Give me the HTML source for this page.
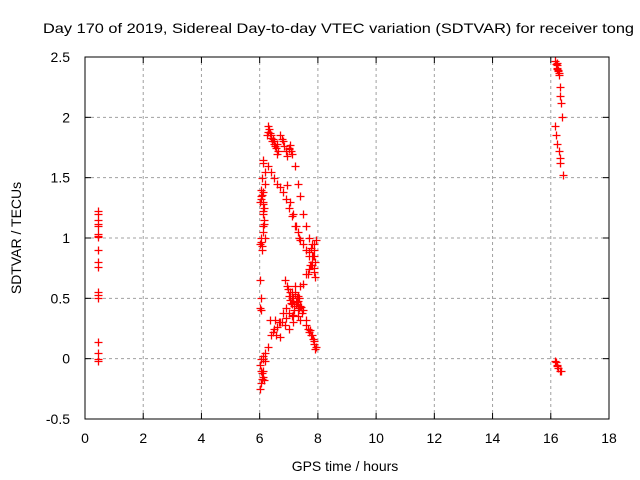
<!DOCTYPE html>
<html><head><meta charset="utf-8"><style>
html,body{margin:0;padding:0;background:#fff;}
svg{display:block;font-family:"Liberation Sans",sans-serif;}
</style></head><body>
<svg id="chart" width="640" height="480" viewBox="0 0 640 480" xmlns="http://www.w3.org/2000/svg">
<rect width="640" height="480" fill="#fff"/>
<text x="43" y="33" font-size="14" textLength="591" lengthAdjust="spacingAndGlyphs">Day 170 of 2019, Sidereal Day-to-day VTEC variation (SDTVAR) for receiver tong</text>
<g id="grid"></g>
<g id="axes"></g>
<g id="points"></g>
<text x="0" y="0" font-size="14" text-anchor="middle" transform="translate(21,238) rotate(-90)">SDTVAR / TECUs</text>
<text x="345" y="471" font-size="14" text-anchor="middle">GPS time / hours</text>
</svg>
<script>
const xTicks = [0,2,4,6,8,10,12,14,16,18];
const yTicks = [-0.5,0,0.5,1,1.5,2,2.5];
const yTickLabels = ["-0.5","0","0.5","1","1.5","2","2.5"];
const times = [
0.45,0.45,0.45,0.45,0.45,0.44,0.46,0.45,0.45,0.45,0.45,0.45,0.45,0.45,0.45,0.45,0.45,0.45,
6.02,6.05,6.08,6.1,6.02,6.05,6.1,6.12,6.05,6.02,6.05,6.0,6.02,6.05,6.08,6.0,6.03,6.06,6.1,6.12,6.15,6.1,6.15,6.1,6.2,6.08,6.1,6.12,6.18,6.2,
6.25,6.3,6.33,6.38,6.42,6.45,6.5,6.55,6.6,6.7,6.8,6.9,7.0,7.04,
7.1,7.2,7.3,7.4,7.5,7.6,7.7,7.8,7.85,7.9,
6.3,6.4,6.5,6.6,6.7,6.8,6.9,7.0,7.1,7.2,7.3,7.39,7.5,7.6,7.7,7.8,7.85,
6.94,7.05,7.15,7.25,7.35,
6.1,6.2,6.3,6.4,6.53,6.65,6.8,6.9,7.04,7.1,7.2,7.3,7.4,7.5,7.6,7.73,7.8,7.88,7.94,
6.87,6.95,7.05,7.15,7.25,7.39,7.5,7.6,7.73,7.8,7.88,7.94,
6.36,6.5,6.7,6.87,7.0,7.15,7.3,7.4,
7.1,7.15,7.2,7.25,7.3,7.18,7.22,7.12,7.28,
6.28,6.32,6.36,6.4,6.48,6.52,6.58,6.62,6.75,6.85,6.95,7.02,7.08,
6.04,6.07,6.1,6.13,6.16,6.06,6.09,6.12,6.04,6.07,6.14,6.17,
7.05,7.08,7.13,7.17,7.22,7.27,7.32,7.36,7.42,7.45,7.1,7.2,7.3,7.15,7.25,7.35,6.98,7.02,
7.65,7.7,7.75,7.8,7.85,7.9,7.68,7.78,7.83,7.88,
7.6,7.65,7.7,7.75,7.82,7.86,7.9,
6.45,6.6,6.75,6.9,7.0,6.55,6.7,
16.15,16.2,16.22,16.25,16.28,16.3,16.32,16.35,16.38,16.15,16.18,16.22,16.28,16.3,16.32,16.42,
16.18,16.22,16.26,16.2,16.28,
16.15,16.2,16.25,16.3,16.35,16.18,16.22
];
const values = [
1.22,1.2,1.15,1.12,1.1,1.03,1.02,1.01,0.9,0.8,0.76,0.55,0.53,0.5,0.14,0.05,0.0,-0.02,
-0.25,-0.2,-0.17,-0.15,-0.05,0.0,0.02,0.0,0.4,0.42,0.5,0.65,0.95,1.0,0.9,1.3,1.35,1.4,1.38,1.3,1.25,1.2,1.15,1.05,1.0,1.5,1.65,1.62,1.45,1.55,
1.85,1.93,1.9,1.85,1.8,1.82,1.8,1.75,1.78,1.85,1.8,1.72,1.75,1.77,
1.7,1.6,1.45,1.35,1.2,1.1,1.0,0.95,0.85,0.8,
1.6,1.55,1.5,1.45,1.42,1.38,1.32,1.25,1.18,1.1,1.05,0.98,0.95,0.9,0.85,0.78,0.75,
1.44,1.3,1.2,1.1,1.0,
-0.1,-0.02,0.1,0.2,0.32,0.3,0.38,0.42,0.49,0.5,0.55,0.52,0.6,0.62,0.7,0.78,0.85,0.9,0.98,
0.65,0.6,0.55,0.5,0.47,0.44,0.4,0.32,0.24,0.2,0.15,0.1,
0.32,0.25,0.3,0.28,0.25,0.3,0.35,0.32,
0.45,0.5,0.55,0.48,0.42,0.4,0.6,0.35,0.5,
1.88,1.9,1.87,1.83,1.78,1.76,1.7,1.72,1.82,1.76,1.68,1.74,1.72,
1.32,1.36,1.28,1.22,1.12,0.97,0.93,1.1,-0.1,-0.12,-0.18,0.05,
0.52,0.46,0.5,0.44,0.54,0.47,0.4,0.5,0.43,0.38,0.55,0.6,0.48,0.36,0.45,0.42,0.58,0.52,
0.7,0.74,0.78,0.8,0.72,0.68,0.88,0.92,0.85,0.95,
0.28,0.25,0.22,0.2,0.16,0.12,0.08,
0.22,0.26,0.3,0.34,0.38,0.2,0.18,
2.47,2.43,2.4,2.38,2.35,2.25,2.18,2.12,2.0,1.93,1.85,1.78,1.72,1.66,1.62,1.52,
2.44,2.41,2.39,2.45,2.37,
-0.02,-0.05,-0.08,-0.1,-0.1,-0.03,-0.06
];
const X0=85,X1=609,Y0=419,Y1=57;
function xs(t){return X0+(t-0)/(18-0)*(X1-X0);}
function ys(v){return Y0-(v-(-0.5))/(2.5-(-0.5))*(Y0-Y1);}
const NS="http://www.w3.org/2000/svg";
const grid=document.getElementById('grid'),axes=document.getElementById('axes'),pts=document.getElementById('points');
function mk(tag,attrs,parent){const e=document.createElementNS(NS,tag);for(const k in attrs)e.setAttribute(k,attrs[k]);parent.appendChild(e);return e;}
xTicks.forEach((t,i)=>{
  const x=xs(t);
  if(i>0&&i<xTicks.length-1){const g=mk('line',{x1:x,y1:Y0,x2:x,y2:Y1,stroke:'#a0a0a0','stroke-dasharray':'3,3','stroke-width':1},grid);
  
  }
  mk('line',{x1:x,y1:Y0,x2:x,y2:Y0-6,stroke:'#000'},axes);
  mk('line',{x1:x,y1:Y1,x2:x,y2:Y1+6,stroke:'#000'},axes);
  const l=mk('text',{x:x,y:443,'font-size':14,'text-anchor':'middle'},axes);l.textContent=String(t);
  
  
});
yTicks.forEach((v,i)=>{
  const y=ys(v);
  if(i>0&&i<yTicks.length-1){const g=mk('line',{x1:X0,y1:y,x2:X1,y2:y,stroke:'#a0a0a0','stroke-dasharray':'3,3','stroke-width':1},grid);
  
  }
  mk('line',{x1:X0,y1:y,x2:X0+6,y2:y,stroke:'#000'},axes);
  mk('line',{x1:X1,y1:y,x2:X1-6,y2:y,stroke:'#000'},axes);
  const l=mk('text',{x:X0-15,y:y+5,'font-size':14,'text-anchor':'end'},axes);l.textContent=yTickLabels[i];
  
  
});
const b=mk('rect',{x:X0,y:Y1,width:X1-X0,height:Y0-Y1,fill:'none',stroke:'#000','stroke-width':1},axes);


let d='';
times.forEach((t,i)=>{const x=Math.round(xs(t))+0.5,y=Math.round(ys(values[i]))+0.5;d+=`M${x-4},${y}H${x+4}M${x},${y-4}V${y+4}`;});
const p=mk('path',{d:d,stroke:'#ff0000','stroke-width':1.3,fill:'none'},pts);


</script>
</body></html>
